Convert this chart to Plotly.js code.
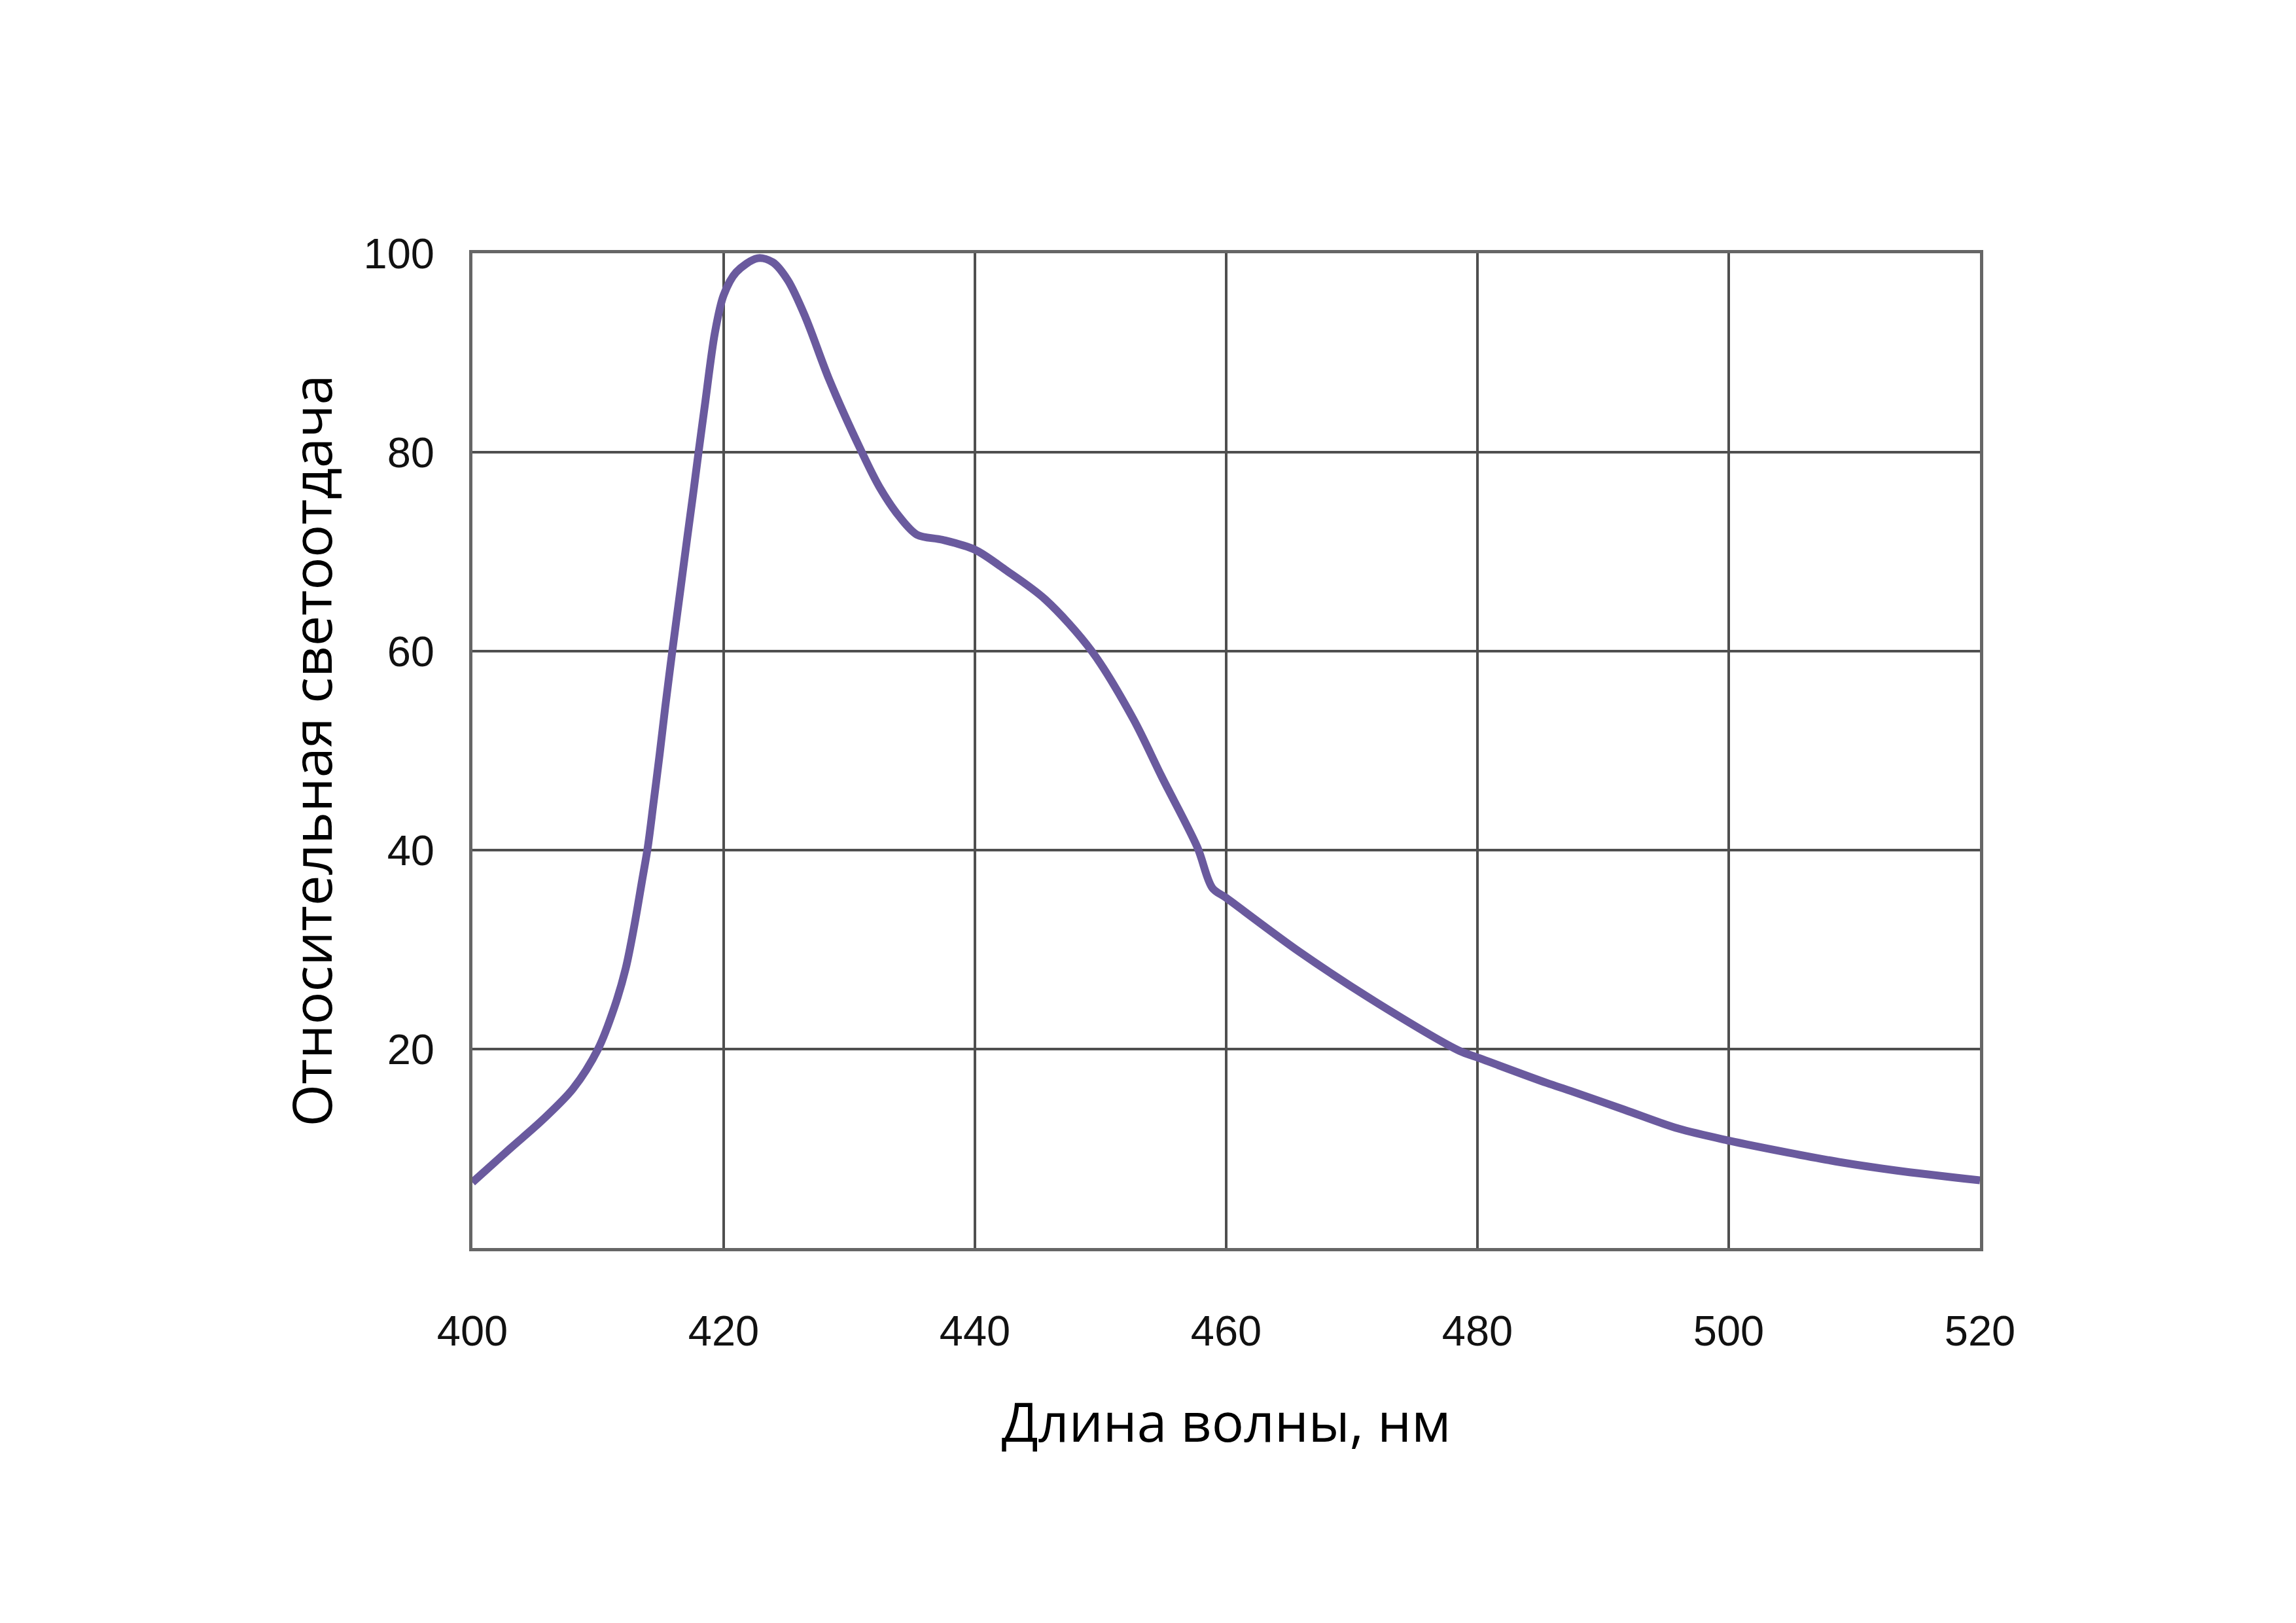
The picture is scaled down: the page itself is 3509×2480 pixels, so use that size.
<!DOCTYPE html>
<html>
<head>
<meta charset="utf-8">
<script src="https://cdn.plot.ly/plotly-3.0.1.min.js"></script>
<style>
  html, body { margin: 0; padding: 0; background: #ffffff; }
  #chart { width: 3509px; height: 2480px; }
</style>
</head>
<body>
<div id="chart"></div>
<script>
// Wavelength, nm
const wavelength = [
  400, 403, 405.6, 408, 410, 411.3, 412.2, 412.9, 413.5, 413.96,
  414.4, 414.9, 415.35, 415.9, 416.6, 417.1, 417.6, 418, 418.5, 419.3,
  420, 421, 422.7, 423.9, 425.1, 426.5, 428.4, 431, 432.4, 434,
  435.4, 437.4, 440, 442.4, 445.6, 449.3, 452.6, 454.9, 457.7, 458.9,
  460, 465.8, 472.2, 478.6, 479.9, 485.5, 487.4, 491.7, 496, 500,
  504.7, 509, 513.3, 520
];
// Relative luminous output, %
const relativeOutput = [
  6.6, 10.0, 12.9, 16.0, 20.0, 24.2, 28.1, 32.5, 36.9, 40.3,
  44.6, 49.6, 54.4, 59.9, 66.6, 71.4, 76.1, 80.0, 84.7, 92.0,
  95.8, 98.1, 99.5, 99.1, 97.3, 93.6, 87.3, 80.0, 76.5, 73.5,
  71.7, 71.2, 70.2, 68.2, 65.2, 60.0, 53.2, 47.3, 40.3, 36.2,
  35.2, 29.8, 24.5, 19.8, 19.2, 16.6, 15.8, 13.9, 12.0, 10.8,
  9.6, 8.6, 7.8, 6.8
];
const xTickVals = [400, 420, 440, 460, 480, 500, 520];
const yTickVals = [20, 40, 60, 80, 100];
const xTitle = "Длина волны, нм";
const yTitle = "Относительная светоотдача";

const trace = {
  x: wavelength,
  y: relativeOutput,
  type: "scatter",
  mode: "lines",
  line: { color: "#6a5a9e", width: 12, shape: "spline", smoothing: 0.9 },
  hoverinfo: "skip",
  showlegend: false
};

const gridColor = "#4f4f4f";
const frameColor = "#666666";
const tickFont = { family: "Liberation Sans, Arial, sans-serif", size: 65, color: "#111111" };
const xTitleFont = { family: "Open Sans, sans-serif", size: 82, color: "#000000" };
const yTitleFont = { family: "Open Sans, sans-serif", size: 83, color: "#000000" };

const layout = {
  width: 3509,
  height: 2480,
  autosize: false,
  paper_bgcolor: "#ffffff",
  plot_bgcolor: "#ffffff",
  margin: { l: 722, r: 483, t: 387, b: 573, pad: 0 },
  showlegend: false,
  xaxis: {
    range: [400, 520],
    tickmode: "array",
    tickvals: xTickVals,
    ticktext: xTickVals.map(String),
    ticks: "",
    showgrid: true,
    gridcolor: gridColor,
    gridwidth: 3.5,
    zeroline: false,
    showline: true,
    mirror: true,
    linecolor: frameColor,
    linewidth: 5,
    tickfont: tickFont,
    ticklabelstandoff: 66,
    automargin: false,
    title: { text: xTitle, font: xTitleFont, standoff: 78 }
  },
  yaxis: {
    range: [0, 100],
    tickmode: "array",
    tickvals: yTickVals,
    ticktext: yTickVals.map(String),
    ticks: "",
    showgrid: true,
    gridcolor: gridColor,
    gridwidth: 3.5,
    zeroline: false,
    showline: true,
    mirror: true,
    linecolor: frameColor,
    linewidth: 5,
    tickfont: tickFont,
    ticklabelstandoff: 40,
    automargin: false,
    title: { text: yTitle, font: yTitleFont, standoff: 22 }
  }
};

Plotly.newPlot("chart", [trace], layout, { staticPlot: true, displayModeBar: false });
</script>
</body>
</html>
